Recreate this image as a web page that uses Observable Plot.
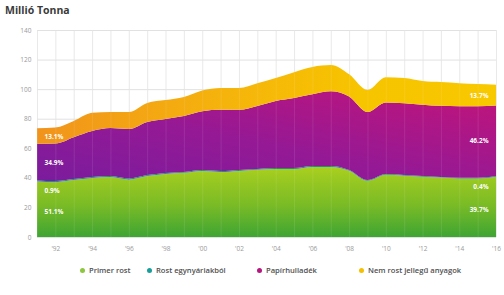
<!DOCTYPE html>
<html>
<head>
<meta charset="utf-8">
<script src="https://cdn.jsdelivr.net/npm/d3@7"></script>
<script src="https://cdn.jsdelivr.net/npm/@observablehq/plot@0.6"></script>
<style>
  html, body { margin: 0; padding: 0; background: #fff; }
  body { position: relative; width: 504px; height: 295px; overflow: hidden; font-family: "Open Sans", "Liberation Sans", sans-serif; }
  #title { position: absolute; left: 5px; top: 3px; font-size: 10.5px; font-weight: 700; color: #3a3a3a; }
  #chart { position: absolute; left: 0; top: 0; }
  #legend { position: absolute; top: 265px; left: 0; width: 504px; height: 12px; font-size: 7.6px; font-weight: 600; color: #505050; }
  .item { position: absolute; top: 0; white-space: nowrap; line-height: 10px; }
  .dot { display: inline-block; width: 5px; height: 5px; border-radius: 50%; margin-right: 4px; vertical-align: 0px; }
</style>
</head>
<body>
<div id="title">Millió Tonna</div>
<div id="chart"></div>
<div id="legend"></div>
<script>
// ---- data (million tonnes) ----
const years = [1991,1992,1993,1994,1995,1996,1997,1998,1999,2000,2001,2002,2003,2004,2005,2006,2007,2008,2009,2010,2011,2012,2013,2014,2015,2016];
const primerRost = [37.5,37.1,38.5,39.9,40.5,38.8,41.2,42.6,43.4,44.7,44.0,44.7,45.4,46.0,46.0,47.4,47.4,44.8,38.0,42.1,41.5,40.7,40.2,39.6,39.6,40.8];
const rostEgynyari = [0.7,0.7,0.7,0.7,0.7,0.7,0.7,0.7,0.6,0.6,0.6,0.6,0.6,0.6,0.6,0.6,0.6,0.5,0.5,0.5,0.5,0.5,0.4,0.4,0.4,0.4];
const papirhulladek = [24.8,25.4,28.3,31.1,32.5,33.5,35.9,36.5,37.8,39.7,41.4,40.7,42.6,45.4,47.4,48.5,50.5,49.7,46.0,48.4,48.5,48.3,48.1,48.4,48.4,47.8];
const nemRost = [10.5,10.8,11.0,12.3,10.8,11.5,12.8,12.8,12.9,14.0,14.7,14.7,15.4,15.5,17.5,18.5,17.8,15.0,14.9,17.0,17.0,16.0,16.1,15.6,15.0,14.0];
const seriesNames = ["Primer rost", "Rost egynyáriakból", "Papírhulladék", "Nem rost jellegű anyagok"];
const startShares = ["51.1%", "0.9%", "34.9%", "13.1%"];
const endShares = ["39.7%", "0.4%", "46.2%", "13.7%"];
const yTicks = [0,20,40,60,80,100,120,140];
const xTicks = [1992,1994,1996,1998,2000,2002,2004,2006,2008,2010,2012,2014,2016];

const legendColors = ["#8dc63f", "#1a9e9a", "#b5177f", "#f5c000"];
const fills = ["url(#gGreen)", "#1b8f8c", "url(#gMag)", "url(#gYel)"];

// build stacked rows
const seriesVals = [primerRost, rostEgynyari, papirhulladek, nemRost];
const layers = seriesVals.map((vals, s) => years.map((yr, i) => {
  let base = 0;
  for (let k = 0; k < s; k++) base += seriesVals[k][i];
  return {year: yr, y1: base, y2: base + vals[i], series: seriesNames[s]};
}));

// label rows (positions derived from data)
const last = years.length - 1;
function labelRows(i, texts) {
  const l = layers.map(L => L[i]);
  const greenTop = l[1].y2;
  return [
    {year: years[i], y: greenTop * 0.45, t: texts[0]},
    {year: years[i], y: greenTop - 7, t: texts[1]},
    {year: years[i], y: (l[2].y1 + l[2].y2) / 2, t: texts[2]},
    {year: years[i], y: (l[3].y1 + l[3].y2) / 2, t: texts[3]}
  ];
}
const startLabels = labelRows(0, startShares);
const endLabels = labelRows(last, endShares);

const areaMarks = layers.map((L, s) => Plot.areaY(L, {
  x: "year", y1: "y1", y2: "y2", fill: fills[s], curve: "monotone-x"
}));

const chart = Plot.plot({
  width: 504,
  height: 260,
  marginTop: 30,
  marginBottom: 23,
  marginLeft: 37,
  marginRight: 8,
  style: {fontFamily: "'Open Sans', 'Liberation Sans', sans-serif", background: "transparent"},
  x: {type: "linear", domain: [1991, 2016]},
  y: {domain: [0, 140]},
  marks: [
    Plot.ruleY(yTicks, {stroke: "#d9d9d9", strokeWidth: 0.8}),
    Plot.ruleX(years, {stroke: "#e3e3e3", strokeWidth: 0.8, y1: 0, y2: 140}),
    ...areaMarks,
    Plot.ruleX(years, {stroke: "#ffffff", strokeOpacity: 0.12, strokeWidth: 0.8, y1: 0, y2: d => layers[3][years.indexOf(d)].y2}),
    Plot.axisY({ticks: yTicks, tickSize: 0, tickPadding: 6, fontSize: 6.5, color: "#9a9a9a", label: null}),
    Plot.axisX({ticks: xTicks, tickSize: 0, tickPadding: 9, fontSize: 6.5, color: "#9a9a9a", label: null,
      tickFormat: d => "'" + String(d).slice(2)}),
    Plot.text(startLabels, {x: "year", y: "y", text: "t", dx: 7, textAnchor: "start", fill: "#fff", fontSize: 6.5, fontWeight: "bold"}),
    Plot.text(endLabels, {x: "year", y: "y", text: "t", dx: -8, textAnchor: "end", fill: "#fff", fontSize: 6.5, fontWeight: "bold"})
  ]
});

// gradients
const defs = d3.create("svg:defs");
function grad(id, x1, y1, x2, y2, stops) {
  const g = defs.append("linearGradient").attr("id", id)
    .attr("x1", x1).attr("y1", y1).attr("x2", x2).attr("y2", y2);
  stops.forEach(([o, c]) => g.append("stop").attr("offset", o).attr("stop-color", c));
}
grad("gGreen", 0, 0, 0, 1, [[0, "#a9cf1e"], [0.55, "#79bb26"], [1, "#3ea533"]]);
grad("gMag", 0, 1, 1, 0, [[0, "#7a1c9d"], [0.45, "#951995"], [1, "#c21479"]]);
grad("gYel", 0, 0, 1, 0, [[0, "#f1931c"], [0.4, "#f5b30c"], [0.7, "#f7c400"], [1, "#f8c800"]]);
chart.insertBefore(defs.node(), chart.firstChild);

document.getElementById("chart").appendChild(chart);

// legend
const legendX = [80, 147, 257, 359];
const legend = d3.select("#legend");
seriesNames.forEach((name, i) => {
  const it = legend.append("div").attr("class", "item").style("left", legendX[i] + "px");
  it.append("span").attr("class", "dot").style("background", legendColors[i]);
  it.append("span").text(name);
});
</script>
</body>
</html>
